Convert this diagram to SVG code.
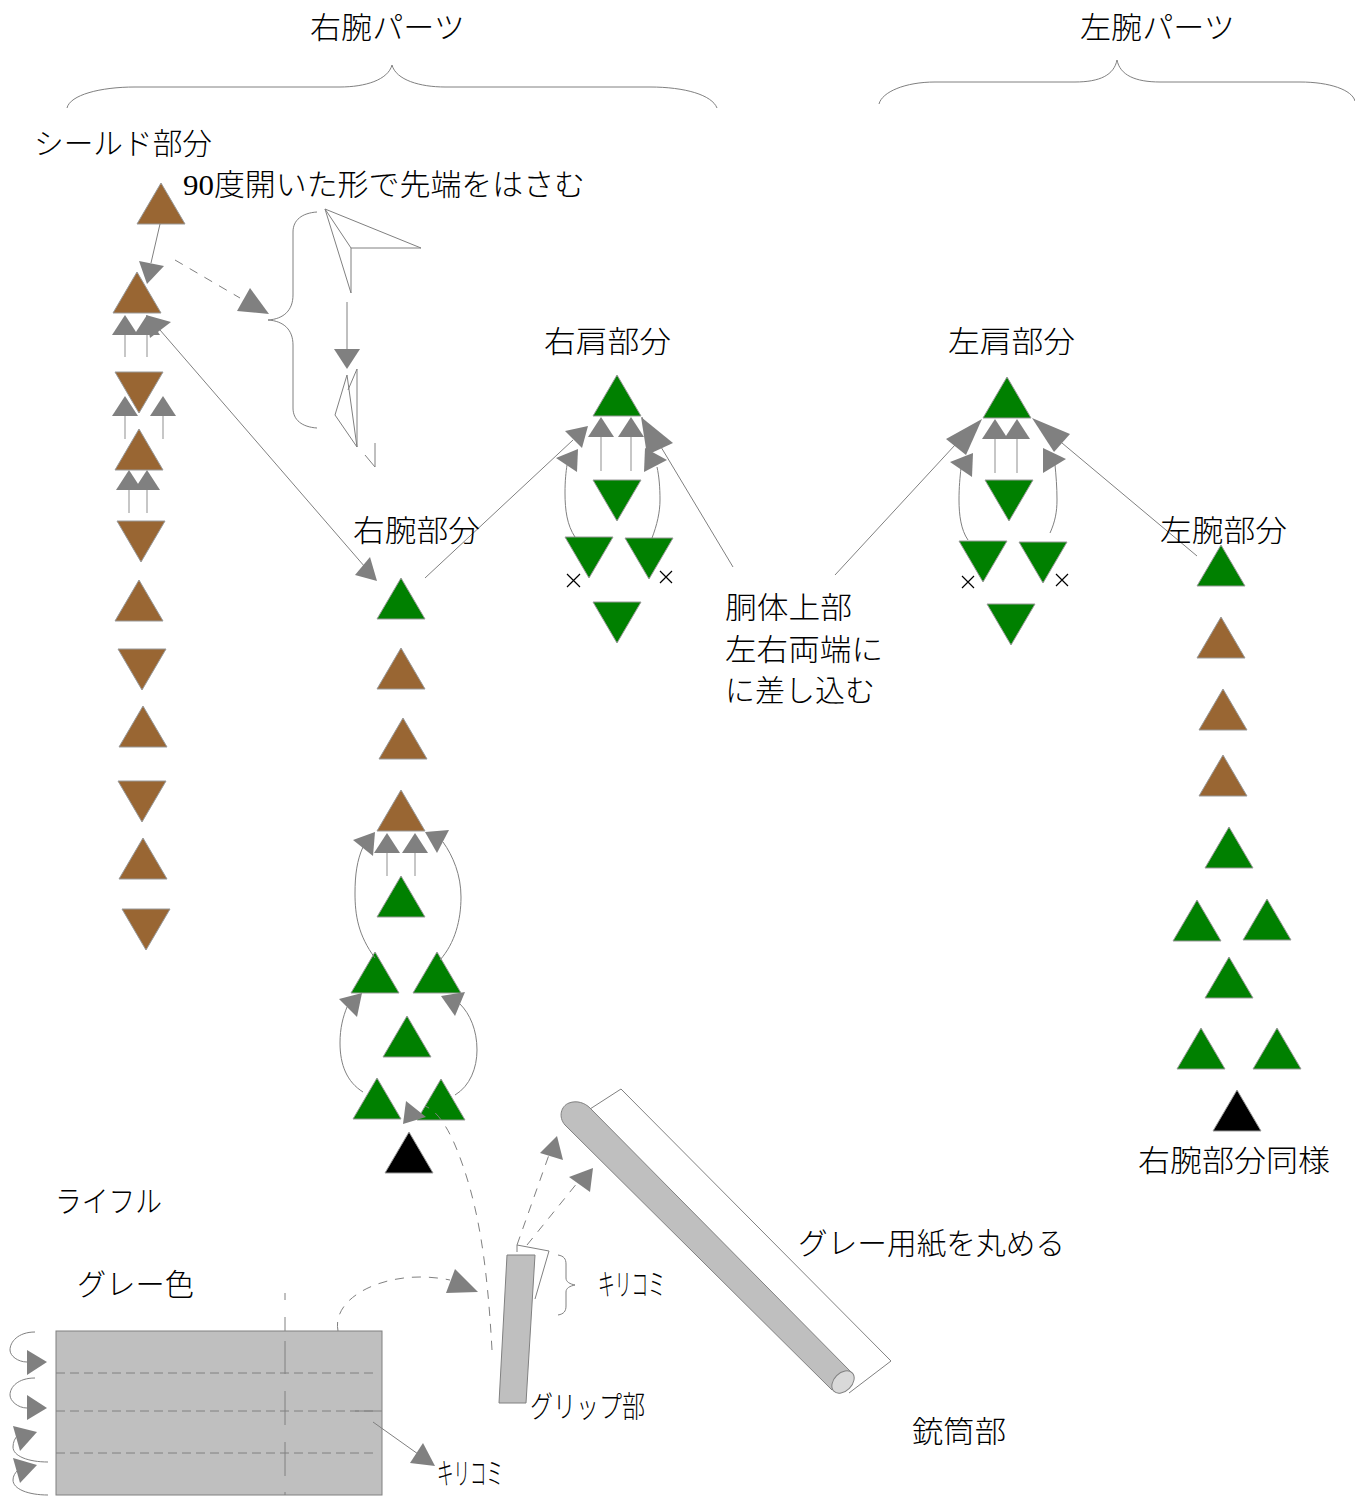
<svg xmlns="http://www.w3.org/2000/svg" width="1355" height="1496" viewBox="0 0 1355 1496">
<style>
text{font-family:"Liberation Serif","Noto Sans CJK JP",serif;font-size:30px;fill:#000;font-weight:300}
.b{fill:#996633;stroke:#999;stroke-width:1}
.g{fill:#008000;stroke:#999;stroke-width:1}
.k{fill:#000;stroke:#999;stroke-width:1}
.l{fill:none;stroke:#808080;stroke-width:1}
.s{fill:none;stroke:#aaa;stroke-width:1.3}
.d{fill:none;stroke:#808080;stroke-width:1;stroke-dasharray:9 8}
.h{fill:#808080;stroke:none}
.p{fill:#bfbfbf;stroke:#808080;stroke-width:1}
.x{fill:none;stroke:#000;stroke-width:1.2}
</style>
<defs>
<polygon id="up" points="0,0 24,41 -24,41"/>
<polygon id="dn" points="0,41 24,0 -24,0"/>
<polygon id="ah" class="h" points="0,0 13,20 -13,20"/>
</defs>
<rect width="1355" height="1496" fill="#fff"/>

<g id="sheet">
<rect class="p" x="56" y="1331" width="326" height="164"/>
<path class="l" stroke-dasharray="9 5" d="M56 1373H377M56 1411H377M56 1453H377"/>
<path class="l" d="M285 1293V1300M285 1317V1331M285 1341V1374M285 1391V1425M285 1442V1476M285 1492V1495M355 1411H382"/>
</g>
<g id="grip">
<polygon class="p" points="507,1255 535,1255 526,1403 499,1403"/>
<path class="l" d="M517 1252V1245L549 1251L535 1299"/>
<path class="l" d="M558 1255C564 1256 566 1259 566 1264V1278C566 1282 570 1284 575 1285C570 1286 566 1288 566 1292V1306C566 1311 564 1314 558 1315"/>
</g>
<g id="tube">
<path class="l" d="M590 1109L621 1089L891 1361L849 1393"/>
<path class="p" d="M590 1108L852 1373L832 1390L565 1125C558 1117 561 1106 569 1103C577 1100 585 1103 590 1108Z"/>
<ellipse cx="843" cy="1382" rx="13" ry="9" transform="rotate(-45 843 1382)" fill="#d9d9d9" stroke="#808080"/>
</g>
<g id="fold-diagram">
<path class="l" d="M351 293L351 248L421 248L325 209L351 248M325 209L351 293"/>
<path class="l" d="M347 375L335 415L357 447L347 375M357 369V447M357 369L348 390"/>
<path class="l" d="M375 443V467L365 455"/>
<path class="l" d="M317 212C302 213 293 220 293 232V295C293 310 284 319 268 320C284 321 293 330 293 345V408C293 420 302 427 317 428"/>
</g>

<g id="braces">
<path class="l" d="M67 108C70 95 100 87 135 87H340C365 87 388 80 392 65C396 80 420 87 445 87H650C685 87 712 95 717 108"/>
<path class="l" d="M879 104C882 92 905 82 935 82H1075C1100 82 1114 75 1117 60C1120 75 1135 82 1160 82H1300C1330 82 1352 90 1355 101"/>
</g>

<g id="shield-part">
<use href="#up" class="b" x="161" y="183"/><use href="#up" class="b" x="137" y="272"/><use href="#dn" class="b" x="139" y="372"/><use href="#up" class="b" x="139" y="429"/><use href="#dn" class="b" x="141" y="521"/><use href="#up" class="b" x="139" y="580"/><use href="#dn" class="b" x="142" y="649"/><use href="#up" class="b" x="143" y="706"/><use href="#dn" class="b" x="142" y="781"/><use href="#up" class="b" x="143" y="838"/><use href="#dn" class="b" x="146" y="909"/>
</g>
<g id="right-arm-part">
<use href="#up" class="g" x="401" y="578"/><use href="#up" class="b" x="401" y="648"/><use href="#up" class="b" x="403" y="718"/><use href="#up" class="b" x="401" y="790"/><use href="#up" class="g" x="401" y="876"/><use href="#up" class="g" x="375" y="952"/><use href="#up" class="g" x="437" y="952"/><use href="#up" class="g" x="407" y="1016"/><use href="#up" class="g" x="377" y="1078"/><use href="#up" class="g" x="441" y="1079"/><use href="#up" class="k" x="409" y="1132"/>
</g>
<g id="right-shoulder-part">
<use href="#up" class="g" x="617" y="375"/><use href="#dn" class="g" x="617" y="480"/><use href="#dn" class="g" x="589" y="537"/><use href="#dn" class="g" x="649" y="538"/><use href="#dn" class="g" x="617" y="602"/>
<path class="x" d="M567 574L580 587M580 574L567 587M660 571L672 583M672 571L660 583"/>
</g>
<g id="left-shoulder-part">
<use href="#up" class="g" x="1007" y="377"/><use href="#dn" class="g" x="1009" y="480"/><use href="#dn" class="g" x="983" y="541"/><use href="#dn" class="g" x="1043" y="542"/><use href="#dn" class="g" x="1011" y="604"/>
<path class="x" d="M962 576L974 588M974 576L962 588M1056 574L1068 586M1068 574L1056 586"/>
</g>
<g id="left-arm-part">
<use href="#up" class="g" x="1221" y="545"/><use href="#up" class="b" x="1221" y="617"/><use href="#up" class="b" x="1223" y="689"/><use href="#up" class="b" x="1223" y="755"/><use href="#up" class="g" x="1229" y="827"/><use href="#up" class="g" x="1197" y="900"/><use href="#up" class="g" x="1267" y="899"/><use href="#up" class="g" x="1229" y="957"/><use href="#up" class="g" x="1201" y="1028"/><use href="#up" class="g" x="1277" y="1028"/><use href="#up" class="k" x="1237" y="1090"/>
</g>

<g id="connectors">
<path class="l" d="M160 224L151 263"/>
<polygon class="h" points="139,261 164,266 147,284"/>
<path class="d" d="M175 260L240 298"/>
<polygon class="h" points="250,288 237,311 269,314"/>
<path class="s" d="M125 357V334M147 357V334M125 439V416M163 439V416M129 513V490M147 513V490"/>
<use href="#ah" x="125" y="315"/><use href="#ah" x="147" y="315"/><use href="#ah" x="125" y="396"/><use href="#ah" x="163" y="396"/><use href="#ah" x="129" y="470"/><use href="#ah" x="147" y="470"/>
<path class="l" d="M160 330L365 567"/>
<polygon class="h" points="171,322 146,315 150,338"/>
<polygon class="h" points="377,581 355,575 370,557"/>
<path class="l" d="M347 302V349"/>
<polygon class="h" points="347,369 334,349 360,349"/>

<path class="s" d="M387 876V853M415 876V853"/>
<use href="#ah" x="387" y="833"/><use href="#ah" x="415" y="833"/>
<path class="l" d="M375 958C358 935 355 915 355 893C355 875 357 860 363 847"/>
<polygon class="h" points="353,840 375,832 373,856"/>
<path class="l" d="M440 960C455 943 461 920 461 897C461 875 453 856 443 842"/>
<polygon class="h" points="425,832 449,830 437,853"/>
<path class="l" d="M363 1092C347 1082 340 1065 340 1043C340 1028 343 1017 347 1007"/>
<polygon class="h" points="362,993 339,999 357,1017"/>
<path class="l" d="M455 1095C470 1086 477 1068 477 1050C477 1030 470 1014 460 1004"/>
<polygon class="h" points="465,992 441,996 455,1016"/>

<path class="s" d="M601 471V437M631 471V437"/>
<use href="#ah" x="601" y="417"/><use href="#ah" x="631" y="417"/>
<path class="l" d="M425 578L573 440"/>
<polygon class="h" points="565,431 588,426 582,448"/>
<path class="l" d="M575 537C567 525 565 510 565 493C565 480 566 472 567 465"/>
<polygon class="h" points="556,458 578,449 577,472"/>
<path class="l" d="M652 538C657 525 660 512 660 500C660 487 659 476 657 467"/>
<polygon class="h" points="645,448 667,460 644,472"/>
<path class="l" d="M733 567L661 447M642 417C645 425 647 435 648 447"/>
<polygon class="h" points="641,417 673,443 647,455"/>

<path class="s" d="M995 473V439M1017 473V439"/>
<use href="#ah" x="995" y="419"/><use href="#ah" x="1017" y="419"/>
<path class="l" d="M835 575L955 445"/>
<polygon class="h" points="982,419 946,439 966,455"/>
<path class="l" d="M1197 556L1062 443"/>
<polygon class="h" points="1032,418 1070,434 1054,452"/>
<path class="l" d="M968 540C961 530 959 515 959 500C959 487 960 477 961 468"/>
<polygon class="h" points="950,462 973,453 972,477"/>
<path class="l" d="M1050 533C1055 522 1057 512 1057 500C1057 487 1056 475 1055 465"/>
<polygon class="h" points="1043,448 1066,459 1043,473"/>

<path class="d" d="M492 1350C487 1260 478 1200 455 1145C445 1122 435 1110 425 1106"/>
<polygon class="h" points="406,1101 403,1124 426,1117"/>
<path class="d" d="M517 1245L550 1152"/>
<polygon class="h" points="557,1136 540,1153 563,1160"/>
<path class="d" d="M527 1245L578 1182"/>
<polygon class="h" points="593,1168 569,1177 590,1192"/>
<path class="d" d="M338 1331C332 1300 375 1277 420 1277C430 1277 440 1278 450 1280"/>
<polygon class="h" points="455,1269 446,1293 478,1292"/>
<path class="l" d="M373 1422L418 1454"/>
<polygon class="h" points="423,1443 410,1463 435,1466"/>
<path class="l" d="M35 1332C18 1332 10 1342 10 1350C10 1356 18 1362 27 1362"/>
<polygon class="h" points="27,1350 27,1375 47,1362"/>
<path class="l" d="M35 1378C18 1378 10 1387 10 1395C10 1401 18 1408 27 1408"/>
<polygon class="h" points="27,1395 27,1420 47,1408"/>
<path class="l" d="M48 1462C28 1462 13 1456 13 1447C13 1442 15 1438 18 1435"/>
<polygon class="h" points="13,1426 37,1432 20,1451"/>
<path class="l" d="M48 1495C28 1495 13 1489 13 1480C13 1476 15 1473 18 1470"/>
<polygon class="h" points="13,1458 37,1465 20,1483"/>
</g>

<g id="labels">
<text x="310" y="38" textLength="155" lengthAdjust="spacingAndGlyphs">右腕パーツ</text>
<text x="1080" y="38" textLength="155" lengthAdjust="spacingAndGlyphs">左腕パーツ</text>
<text x="34" y="154" textLength="178" lengthAdjust="spacingAndGlyphs">シールド部分</text>
<text x="183" y="195" textLength="402" lengthAdjust="spacingAndGlyphs">90度開いた形で先端をはさむ</text>
<text x="544" y="352" textLength="127" lengthAdjust="spacingAndGlyphs">右肩部分</text>
<text x="948" y="352" textLength="127" lengthAdjust="spacingAndGlyphs">左肩部分</text>
<text x="353" y="541" textLength="127" lengthAdjust="spacingAndGlyphs">右腕部分</text>
<text x="1160" y="541" textLength="127" lengthAdjust="spacingAndGlyphs">左腕部分</text>
<text x="725" y="618" textLength="127" lengthAdjust="spacingAndGlyphs">胴体上部</text>
<text x="725" y="660" textLength="158" lengthAdjust="spacingAndGlyphs">左右両端に</text>
<text x="725" y="701" textLength="150" lengthAdjust="spacingAndGlyphs">に差し込む</text>
<text x="1138" y="1171" textLength="192" lengthAdjust="spacingAndGlyphs">右腕部分同様</text>
<text x="55" y="1212" textLength="107" lengthAdjust="spacingAndGlyphs">ライフル</text>
<text x="77" y="1295" textLength="117" lengthAdjust="spacingAndGlyphs">グレー色</text>
<text x="798" y="1254" textLength="267" lengthAdjust="spacingAndGlyphs">グレー用紙を丸める</text>
<text x="598" y="1295" textLength="67" lengthAdjust="spacingAndGlyphs">キリコミ</text>
<text x="530" y="1417" textLength="115" lengthAdjust="spacingAndGlyphs">グリップ部</text>
<text x="912" y="1442" textLength="94" lengthAdjust="spacingAndGlyphs">銃筒部</text>
<text x="437" y="1484" textLength="66" lengthAdjust="spacingAndGlyphs">キリコミ</text>
</g>
</svg>
